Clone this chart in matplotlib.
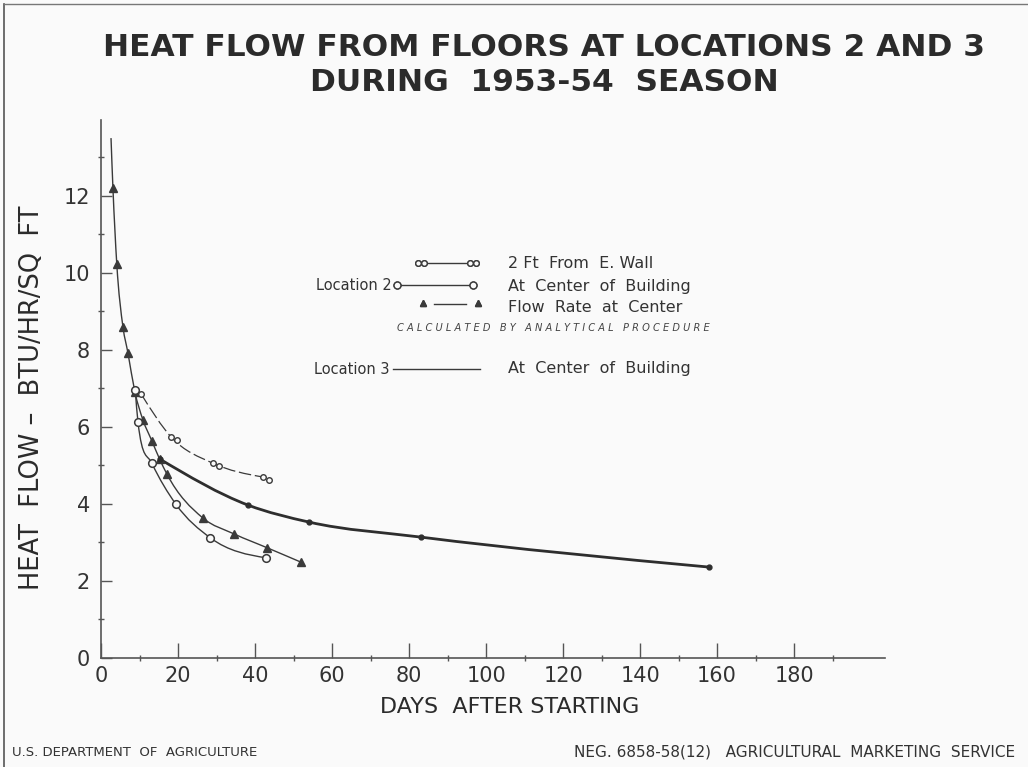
import matplotlib.pyplot as plt
import matplotlib.transforms as mtransforms
from matplotlib.path import Path
from matplotlib.patches import PathPatch
from matplotlib.lines import Line2D
import numpy as np

# Location 2, flow rate at center (calculated, triangles)
flow_days = [2.6, 3.1, 4.1, 5.7, 7.0, 8.8, 10.9, 13.2, 15.2, 17.1, 26.4, 34.6, 43.2, 51.9]
flow_vals = [13.5, 12.2, 10.23, 8.6, 7.92, 6.91, 6.18, 5.64, 5.17, 4.78, 3.64, 3.22, 2.86, 2.49]

# Location 2, at center of building (open circles)
ctr2_days = [8.9, 9.6, 13.2, 19.4, 28.4, 42.9]
ctr2_vals = [6.95, 6.13, 5.06, 4.0, 3.12, 2.60]

# Location 2, 2 ft from E. wall (double circles)
wall_days = [10.4, 18.2, 29.0, 42.0]
wall_vals = [6.86, 5.74, 5.06, 4.70]

# Location 3, at center of building
loc3_days = [15.2, 38.2, 54.0, 83.0, 158.0]
loc3_vals = [5.17, 3.97, 3.53, 3.14, 2.36]

x_major = [0, 20, 40, 60, 80, 100, 120, 140, 160, 180]
x_minor = [10, 30, 50, 70, 90, 110, 130, 150, 170, 190]
y_major = [0, 2, 4, 6, 8, 10, 12]
y_minor = [1, 3, 5, 7, 9, 11, 13]

INK = '#3a3a3a'
BG = '#fafafa'
W, H = 1028, 767


def smooth(ax, xs, ys, **kw):
    # monotone cubic through the points, drawn as a Bezier path
    x = np.asarray(xs, float)
    y = np.asarray(ys, float)
    n = len(x)
    h = np.diff(x)
    s = np.diff(y) / h
    m = np.zeros(n)
    for i in range(1, n - 1):
        m[i] = (h[i] * s[i - 1] + h[i - 1] * s[i]) / (h[i - 1] + h[i])
    m[0] = (3 * s[0] - m[1]) / 2 if n > 2 else s[0]
    m[-1] = (3 * s[-1] - m[-2]) / 2 if n > 2 else s[-1]
    for i in range(n - 1):
        if s[i] == 0:
            m[i] = m[i + 1] = 0
            continue
        a, b = m[i] / s[i], m[i + 1] / s[i]
        r = a * a + b * b
        if r > 9:
            t = 3 / np.sqrt(r)
            m[i], m[i + 1] = t * a * s[i], t * b * s[i]
    verts = [(x[0], y[0])]
    codes = [Path.MOVETO]
    for i in range(n - 1):
        d = h[i] / 3.0
        verts += [(x[i] + d, y[i] + m[i] * d),
                  (x[i + 1] - d, y[i + 1] - m[i + 1] * d),
                  (x[i + 1], y[i + 1])]
        codes += [Path.CURVE4] * 3
    ax.add_patch(PathPatch(Path(verts, codes), fill=False, transform=ax.transData, **kw))


def fx(px):
    return px / W


def fy(py):
    return 1 - py / H


fig = plt.figure(figsize=(10.28, 7.67), dpi=100, facecolor=BG)
ax = fig.add_axes([fx(101), fy(658), (885 - 101) / W, (658 - 120) / H])
ax.set_facecolor(BG)
ax.set_xlim(0, 203.6)
ax.set_ylim(0, 13.97)

for s in ['top', 'right']:
    ax.spines[s].set_visible(False)
for s in ['left', 'bottom']:
    ax.spines[s].set_color('#555555')
    ax.spines[s].set_linewidth(1.2)

ax.set_xticks(x_major)
ax.set_xticks(x_minor, minor=True)
ax.set_yticks(y_major)
ax.set_yticks(y_minor, minor=True)
ax.tick_params(axis='x', which='major', direction='in', length=11, width=1, color='#555555',
               labelsize=15, labelcolor='#333333', pad=6)
ax.tick_params(axis='y', which='major', direction='in', length=8, width=1, color='#555555',
               labelsize=15, labelcolor='#333333', pad=8)
ax.tick_params(which='minor', direction='inout', length=5, width=1, color='#555555')

# curves
smooth(ax, flow_days, flow_vals, edgecolor=INK, linewidth=1.0)
ax.plot(flow_days[1:], flow_vals[1:], linestyle='none', marker='^', markersize=5.5,
        color=INK)

smooth(ax, ctr2_days, ctr2_vals, edgecolor=INK, linewidth=1.0)
ax.plot(ctr2_days, ctr2_vals, linestyle='none', marker='o', markersize=5.5,
        markerfacecolor=BG, markeredgecolor=INK, markeredgewidth=1.1)

smooth(ax, wall_days, wall_vals, edgecolor=INK, linewidth=0.9, linestyle=(0, (10, 3)))
ax.plot(wall_days, wall_vals, linestyle='none', marker='o', markersize=4,
        markerfacecolor=BG, markeredgecolor=INK, markeredgewidth=1.0)
off = mtransforms.offset_copy(ax.transData, fig=fig, x=6, y=-3, units='dots')
ax.plot(wall_days[1:], wall_vals[1:], linestyle='none', marker='o', markersize=4,
        markerfacecolor=BG, markeredgecolor=INK, markeredgewidth=1.0, transform=off)

smooth(ax, loc3_days, loc3_vals, edgecolor='#2e2e2e', linewidth=2.0)
ax.plot(loc3_days, loc3_vals, linestyle='none', marker='o', markersize=3.5, color='#2e2e2e')


# legend keys (figure pixel layout)
def key(x0, x1, y, **kw):
    fig.add_artist(Line2D([fx(x0), fx(x1)], [fy(y), fy(y)], transform=fig.transFigure, **kw))


key(428, 468, 263, color=INK, lw=1.0)
for xa in (418, 424, 470, 476):
    key(xa, xa, 263, marker='o', markersize=4, markerfacecolor=BG, markeredgecolor=INK, lw=0)
key(401, 470, 285, color=INK, lw=1.0)
for xa in (397, 473):
    key(xa, xa, 285, marker='o', markersize=5, markerfacecolor=BG, markeredgecolor=INK, lw=0)
key(434, 466, 304, color=INK, lw=1.0)
for xa in (423, 478):
    key(xa, xa, 303, marker='^', markersize=4.5, color=INK, lw=0)
key(393, 480, 369, color=INK, lw=1.0)

tk = dict(fontsize=11.5, color='#333333', va='center')
fig.text(fx(508), fy(264), '2 Ft  From  E. Wall', **tk)
fig.text(fx(508), fy(286), 'At  Center  of  Building', **tk)
fig.text(fx(508), fy(307), 'Flow  Rate  at  Center', **tk)
fig.text(fx(508), fy(369), 'At  Center  of  Building', **tk)
fig.text(fx(392), fy(286), 'Location 2', ha='right', fontsize=10.5, color='#333333', va='center')
fig.text(fx(389), fy(369), 'Location 3', ha='right', fontsize=10.5, color='#333333', va='center')
fig.text(fx(397), fy(328), 'C A L C U L A T E D   B Y   A N A L Y T I C A L   P R O C E D U R E',
         fontsize=7.1, style='italic', color='#444444', va='center')

# titles and labels
fig.text(fx(544), fy(65), 'HEAT FLOW FROM FLOORS AT LOCATIONS 2 AND 3\nDURING  1953-54  SEASON',
         ha='center', va='center', fontsize=22.5, fontweight='bold', color='#2b2b2b',
         linespacing=1.25)
fig.text(fx(32), fy(398), 'HEAT  FLOW –  BTU/HR/SQ  FT', rotation=90, ha='center', va='center',
         fontsize=18.5, color='#2b2b2b')
fig.text(fx(510), fy(707), 'DAYS  AFTER STARTING', ha='center', va='center',
         fontsize=16, color='#2b2b2b')
fig.text(fx(12), fy(752), 'U.S. DEPARTMENT  OF  AGRICULTURE', fontsize=9.5, color='#333333', va='center')
fig.text(fx(1015), fy(752), 'NEG. 6858-58(12)   AGRICULTURAL  MARKETING  SERVICE',
         fontsize=11, color='#333333', va='center', ha='right')

# frame edges of the original print
fig.add_artist(Line2D([fx(4), fx(4)], [fy(4), 0], transform=fig.transFigure, color='#555555', lw=1.2))
fig.add_artist(Line2D([fx(4), 1], [fy(4), fy(4)], transform=fig.transFigure, color='#777777', lw=1.0))

fig.savefig('out.png', dpi=100, facecolor=BG)
